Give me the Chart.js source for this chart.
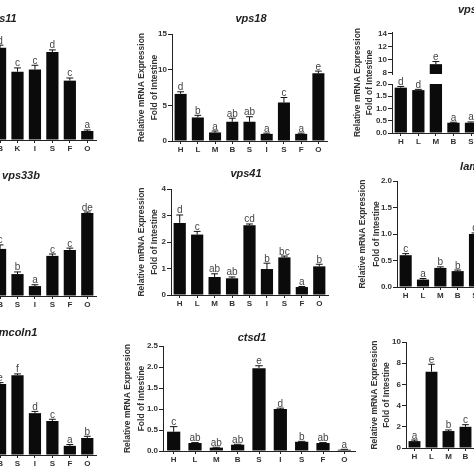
<!DOCTYPE html>
<html>
<head>
<meta charset="utf-8">
<script src="https://cdn.jsdelivr.net/npm/chart.js@4.4.1/dist/chart.umd.min.js"></script>
<style>
  html, body { margin: 0; padding: 0; background: #fff; }
  body { width: 474px; height: 474px; overflow: hidden; position: relative; }
  canvas { position: absolute; }
</style>
</head>
<body>
<script>
// ---- data ----
const tissues = ["H", "L", "M", "B", "S", "I", "S", "F", "O"];
const tissuesK = ["H", "L", "M", "B", "K", "I", "S", "F", "O"];
const yTitle = ["Relative mRNA Expression", "Fold of Intestine"];

// row 1
const vps11Mean = [1.45, 1.6, 1.5, 1.74, 1.29, 1.33, 1.66, 1.12, 0.17];
const vps11Err = [0.06, 0.05, 0.06, 0.05, 0.07, 0.08, 0.04, 0.05, 0.02];
const vps11Sig = ["c", "d", "c", "d", "c", "c", "d", "c", "a"];
const vps11Ticks = [0, 0.5, 1, 1.5, 2];

const vps18Mean = [6.6, 3.3, 1.2, 2.7, 2.7, 1.0, 5.4, 1.0, 9.5];
const vps18Err = [0.3, 0.3, 0.2, 0.5, 0.7, 0.1, 0.7, 0.1, 0.3];
const vps18Sig = ["d", "b", "a", "ab", "ab", "a", "c", "a", "e"];
const vps18Ticks = [0, 5, 10, 15];

const vps16Mean = [1.85, 1.75, 9.3, 0.42, 0.42, 0.6, 1.1, 0.9, 1.3];
const vps16Err = [0.05, 0.03, 0.4, 0.02, 0.03, 0.05, 0.05, 0.05, 0.05];
const vps16Sig = ["d", "d", "e", "a", "a", "b", "c", "c", "c"];
const vps16LowTicks = [0, 0.5, 1, 1.5, 2];
const vps16HighTicks = [8, 10, 12, 14];

// row 2
const vps33bMean = [2.0, 1.5, 1.2, 1.76, 0.82, 0.37, 1.5, 1.72, 3.1];
const vps33bErr = [0.1, 0.1, 0.1, 0.15, 0.08, 0.05, 0.07, 0.07, 0.04];
const vps33bSig = ["d", "c", "c", "c", "b", "a", "c", "c", "de"];
const vps33bTicks = [0, 1, 2, 3, 4];

const vps41Mean = [2.72, 2.28, 0.68, 0.63, 2.63, 0.98, 1.42, 0.3, 1.08];
const vps41Err = [0.3, 0.12, 0.12, 0.05, 0.05, 0.22, 0.05, 0.02, 0.08];
const vps41Sig = ["d", "c", "ab", "ab", "cd", "b", "bc", "a", "b"];
const vps41Ticks = [0, 1, 2, 3, 4];

const lamp1Mean = [0.6, 0.14, 0.36, 0.3, 1.0, 0.7, 0.8, 0.5, 0.9];
const lamp1Err = [0.03, 0.02, 0.02, 0.02, 0.02, 0.03, 0.03, 0.02, 0.03];
const lamp1Sig = ["c", "a", "b", "b", "d", "c", "c", "b", "d"];
const lamp1Ticks = [0, 0.5, 1, 1.5, 2];

// row 3
const mcoln1Mean = [1.2, 1.0, 1.4, 1.63, 1.83, 0.96, 0.78, 0.21, 0.39];
const mcoln1Err = [0.04, 0.04, 0.04, 0.03, 0.03, 0.04, 0.04, 0.03, 0.04];
const mcoln1Sig = ["d", "d", "e", "e", "f", "d", "c", "a", "b"];
const mcoln1Ticks = [0, 0.5, 1, 1.5, 2, 2.5];

const ctsd1Mean = [0.46, 0.19, 0.08, 0.15, 1.97, 1.0, 0.22, 0.19, 0.03];
const ctsd1Err = [0.12, 0.01, 0.01, 0.01, 0.06, 0.02, 0.01, 0.01, 0.01];
const ctsd1Sig = ["c", "ab", "ab", "ab", "e", "d", "b", "ab", "a"];
const ctsd1Ticks = [0, 0.5, 1, 1.5, 2, 2.5];

const ctsbMean = [0.65, 7.2, 1.6, 2.0, 3.0, 2.5, 1.5, 1.2, 1.0];
const ctsbErr = [0.1, 0.7, 0.1, 0.2, 0.2, 0.2, 0.1, 0.1, 0.1];
const ctsbSig = ["a", "e", "b", "c", "d", "c", "b", "b", "ab"];
const ctsbTicks = [0, 2, 4, 6, 8, 10];

// ---- drawing ----
const SANS = "'Liberation Sans', Arial, sans-serif";
Chart.defaults.font.family = SANS;
const PL = 40, YW = 22, PT = 30, PR = 12, XH = 16;

const decor = {
  id: "decor",
  afterDatasetsDraw(chart, args, opts) {
    const ctx = chart.ctx;
    ctx.save();
    chart.data.datasets.forEach((ds, di) => {
      const meta = chart.getDatasetMeta(di);
      const ys = chart.scales[meta.yAxisID];
      meta.data.forEach((bar, i) => {
        const v = ds.data[i];
        if (v == null || ds.err[i] == null) return;
        const top = ys.getPixelForValue(v + ds.err[i]);
        const cap = bar.width * 0.28;
        ctx.strokeStyle = "#111";
        ctx.lineWidth = 1;
        ctx.beginPath();
        ctx.moveTo(bar.x, bar.y);
        ctx.lineTo(bar.x, top);
        ctx.moveTo(bar.x - cap, top);
        ctx.lineTo(bar.x + cap, top);
        ctx.stroke();
        ctx.fillStyle = "#444";
        ctx.font = "10px " + SANS;
        ctx.textAlign = "center";
        ctx.textBaseline = "alphabetic";
        ctx.fillText(ds.sig[i], bar.x, top - 1.5);
      });
    });
    ctx.restore();
  },
  afterDraw(chart, args, opts) {
    const ctx = chart.ctx;
    const area = chart.chartArea;
    ctx.save();
    ctx.fillStyle = "#222";
    ctx.font = "italic bold 11px " + SANS;
    ctx.textAlign = "center";
    ctx.textBaseline = "middle";
    ctx.fillText(opts.title, opts.titleX - opts.ox, opts.titleY - opts.oy);
    ctx.fillStyle = "#333";
    ctx.font = "bold 8.5px " + SANS;
    const cy = (area.top + area.bottom) / 2;
    yTitle.forEach((line, k) => {
      ctx.save();
      ctx.translate(area.left + opts.yOff[k], cy);
      ctx.rotate(-Math.PI / 2);
      ctx.fillText(line, 0, 0);
      ctx.restore();
    });
    ctx.restore();
  }
};

function yAxis(min, max, list, dec, extra) {
  return Object.assign({
    position: "left",
    min: min,
    max: max,
    afterBuildTicks: (s) => { s.ticks = list.map((v) => ({ value: v })); },
    afterFit: (s) => { s.width = YW; },
    ticks: {
      autoSkip: false,
      font: { size: 8, weight: "bold" },
      color: "#333",
      padding: 1,
      callback: (v) => (dec ? Number(v).toFixed(dec) : v)
    },
    grid: { drawOnChartArea: false, tickLength: 4, tickColor: "#222" },
    border: { color: "#222", width: 1 }
  }, extra || {});
}

function xAxis() {
  return {
    offset: true,
    afterFit: (s) => { s.height = XH; },
    grid: { offset: false, drawOnChartArea: false, tickLength: 3, tickColor: "#222" },
    border: { color: "#222", width: 1 },
    ticks: { autoSkip: false, maxRotation: 0, padding: 1, font: { size: 8, weight: "bold" }, color: "#333" }
  };
}

function barSet(data, err, sig, axis, pct) {
  return {
    data: data, err: err, sig: sig, yAxisID: axis,
    backgroundColor: "#0b0b0b", borderWidth: 0,
    categoryPercentage: 1, barPercentage: pct, grouped: false
  };
}

function makePanel(p) {
  const [l, t, r, b] = p.plot;
  const cv = document.createElement("canvas");
  const ox = l - YW - PL, oy = t - PT;
  cv.width = PL + YW + (r - l) + PR;
  cv.height = PT + (b - t) + XH;
  cv.style.left = ox + "px";
  cv.style.top = oy + "px";
  document.body.appendChild(cv);
  new Chart(cv, {
    type: "bar",
    data: { labels: p.labels, datasets: p.datasets },
    options: {
      responsive: false,
      animation: false,
      devicePixelRatio: 1,
      layout: { padding: { left: PL, top: PT, right: PR, bottom: 0 } },
      plugins: {
        legend: { display: false },
        tooltip: { enabled: false },
        decor: { title: p.title, titleX: p.titleAt[0], titleY: p.titleAt[1], yOff: p.yOff, ox: ox, oy: oy }
      },
      scales: Object.assign({ x: xAxis() }, p.scales)
    },
    plugins: [decor]
  });
}

// row 1
makePanel({
  title: "vps11", titleAt: [1.5, 19], yOff: [-30, -17], plot: [-61, 34, 96, 140], labels: tissuesK,
  datasets: [barSet(vps11Mean, vps11Err, vps11Sig, "y", 0.7)],
  scales: { y: yAxis(0, 2, vps11Ticks, 1) }
});
makePanel({
  title: "vps18", titleAt: [251, 19], yOff: [-30, -17], plot: [172, 34, 327, 141], labels: tissues,
  datasets: [barSet(vps18Mean, vps18Err, vps18Sig, "y", 0.7)],
  scales: { y: yAxis(0, 15, vps18Ticks, 0) }
});
const vps16Low = vps16Mean.map((v) => Math.min(v, 2));
const vps16LowErr = vps16Err.map((e, i) => (vps16Mean[i] > 2 ? null : e));
const vps16High = vps16Mean.map((v) => (v > 2 ? v : null));
makePanel({
  title: "vps16", titleAt: [473.5, 10], yOff: [-34, -22], plot: [392, 32, 550, 133], labels: tissues,
  datasets: [
    barSet(vps16Low, vps16LowErr, vps16Sig, "y", 0.7),
    barSet(vps16High, vps16Err, vps16Sig, "yTop", 0.7)
  ],
  scales: {
    y: yAxis(0, 2, vps16LowTicks, 1, { stack: "brk", stackWeight: 49 }),
    yGap: {
      position: "left", stack: "brk", stackWeight: 10,
      afterFit: (s) => { s.width = YW; },
      ticks: { display: false }, grid: { display: false }, border: { display: false }
    },
    yTop: yAxis(7.8, 14.2, vps16HighTicks, 0, { stack: "brk", stackWeight: 42 })
  }
});

// row 2
makePanel({
  title: "vps33b", titleAt: [21, 176], yOff: [-30, -17], plot: [-61, 189, 96, 296], labels: tissues,
  datasets: [barSet(vps33bMean, vps33bErr, vps33bSig, "y", 0.7)],
  scales: { y: yAxis(0, 4, vps33bTicks, 0) }
});
makePanel({
  title: "vps41", titleAt: [246, 174], yOff: [-29, -16], plot: [171, 189, 328, 295], labels: tissues,
  datasets: [barSet(vps41Mean, vps41Err, vps41Sig, "y", 0.7)],
  scales: { y: yAxis(0, 4, vps41Ticks, 0) }
});
makePanel({
  title: "lamp1", titleAt: [476, 167], yOff: [-34, -20], plot: [397, 181, 553, 287], labels: tissues,
  datasets: [barSet(lamp1Mean, lamp1Err, lamp1Sig, "y", 0.7)],
  scales: { y: yAxis(0, 2, lamp1Ticks, 1) }
});

// row 3
makePanel({
  title: "mcoln1", titleAt: [18, 333], yOff: [-30, -17], plot: [-61, 346, 96, 455], labels: tissues,
  datasets: [barSet(mcoln1Mean, mcoln1Err, mcoln1Sig, "y", 0.7)],
  scales: { y: yAxis(0, 2.5, mcoln1Ticks, 1) }
});
makePanel({
  title: "ctsd1", titleAt: [252, 338], yOff: [-35, -21], plot: [163, 346, 355, 451], labels: tissues,
  datasets: [barSet(ctsd1Mean, ctsd1Err, ctsd1Sig, "y", 0.62)],
  scales: { y: yAxis(0, 2.5, ctsd1Ticks, 1) }
});
makePanel({
  title: "ctsb", titleAt: [505, 330], yOff: [-31, -19], plot: [406, 342, 559, 448], labels: tissues,
  datasets: [barSet(ctsbMean, ctsbErr, ctsbSig, "y", 0.7)],
  scales: { y: yAxis(0, 10, ctsbTicks, 0) }
});
</script>
</body>
</html>
